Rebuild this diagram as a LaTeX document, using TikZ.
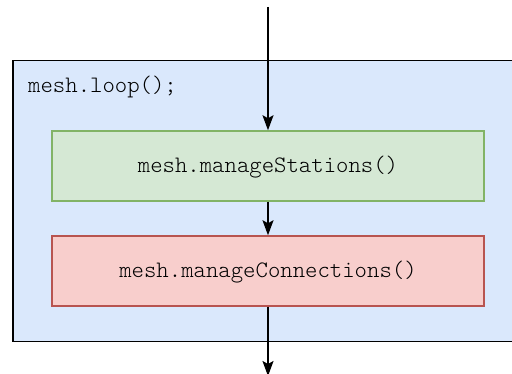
\documentclass[tikz,border=0pt]{standalone}
\usepackage{fontspec}
\setmonofont{Latin Modern Mono Light}
\usetikzlibrary{arrows.meta}
\definecolor{bluefill}{HTML}{DAE8FC}
\definecolor{greenfill}{HTML}{D5E8D4}
\definecolor{greenline}{HTML}{82B366}
\definecolor{redfill}{HTML}{F8CECC}
\definecolor{redline}{HTML}{B85450}
\begin{document}
\begin{tikzpicture}[x=1pt,y=-1pt,
  codefont/.style={font=\fontsize{23.6}{26}\ttfamily},
  stepbox/.style={draw, line width=1.5pt, minimum width=432pt, minimum height=70pt, inner sep=0pt, codefont},
  flow/.style={draw=black, line width=1.5pt, -{Stealth[length=15pt,width=11pt,inset=3pt]}}
]
\useasboundingbox (0,0) rectangle (512,374);
\clip (0,0) rectangle (512,374);
\node[draw=black, fill=bluefill, line width=1.5pt, minimum width=520pt, minimum height=281pt, inner sep=0pt, anchor=north west] (outer) at (12,60) {};
\node[codefont, anchor=base west, inner sep=0pt] (title) at (28,92.5) {mesh.loop();};
\node[stepbox, fill=greenfill, draw=greenline] (stations) at (268,166) {};
\node[codefont, anchor=base, inner sep=0pt] (stationstext) at (stations.center) [yshift=-6.5pt] {mesh.manageStations()};
\node[stepbox, fill=redfill, draw=redline] (connections) at (268,271) {};
\node[codefont, anchor=base, inner sep=0pt] (connectionstext) at (connections.center) [yshift=-6.5pt] {mesh.manageConnections()};
\coordinate (start) at (268,7);
\coordinate (finish) at (268,376);
\draw[flow] (start) -- (stations.north);
\draw[flow] (stations.south) -- (connections.north);
\draw[flow] (connections.south) -- (finish);
\end{tikzpicture}
\end{document}
